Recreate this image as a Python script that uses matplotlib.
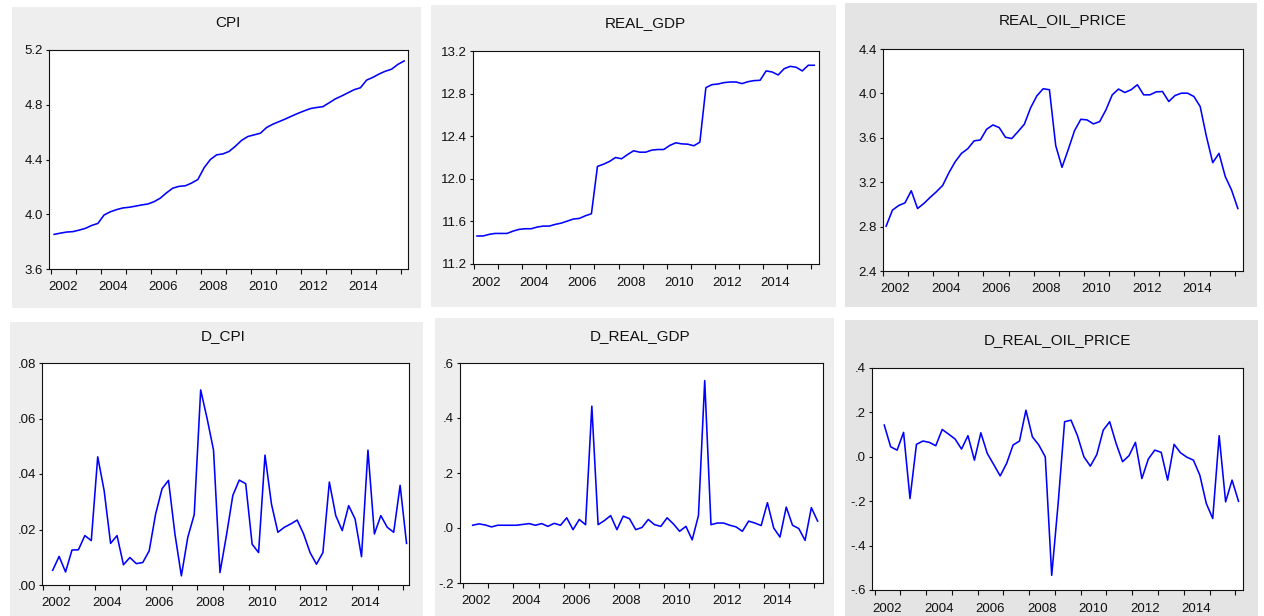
import matplotlib
matplotlib.use("Agg")
import matplotlib.pyplot as plt
from matplotlib.patches import Rectangle
import pandas as pd

# ------------------ CONFIG ------------------
W, H = 1264, 616
plt.rcParams.update({
    "font.family": ["Liberation Sans", "DejaVu Sans"],
    "font.size": 9.5,
    "axes.linewidth": 0.8,
})

GRAY_LIGHT = "#eeeeee"
GRAY_DARK = "#e4e4e4"
TEXT = "#111111"
LINE_BLUE = "#0000ff"

# quarterly sample 2002Q1 - 2016Q1
QUARTERS = pd.period_range("2002Q1", "2016Q1", freq="Q")

CPI = [3.853, 3.862, 3.870, 3.873, 3.884, 3.897, 3.918, 3.933, 3.995, 4.018,
       4.034, 4.046, 4.051, 4.059, 4.068, 4.075, 4.092, 4.118, 4.157, 4.191,
       4.204, 4.208, 4.228, 4.254, 4.340, 4.400, 4.434, 4.441, 4.459, 4.497,
       4.540, 4.568, 4.580, 4.592, 4.634, 4.658, 4.677, 4.696, 4.717, 4.737,
       4.755, 4.772, 4.780, 4.786, 4.814, 4.843, 4.864, 4.887, 4.910, 4.924,
       4.980, 5.000, 5.025, 5.045, 5.060, 5.095, 5.120]

REAL_GDP = [11.463, 11.463, 11.478, 11.487, 11.487, 11.487, 11.509, 11.525, 11.531, 11.531,
            11.547, 11.556, 11.556, 11.572, 11.584, 11.603, 11.622, 11.628, 11.653, 11.672,
            12.116, 12.137, 12.163, 12.200, 12.188, 12.228, 12.263, 12.250, 12.250, 12.269,
            12.275, 12.275, 12.313, 12.338, 12.328, 12.325, 12.310, 12.344, 12.856, 12.884,
            12.890, 12.903, 12.909, 12.909, 12.894, 12.912, 12.922, 12.925, 13.013, 13.003,
            12.975, 13.034, 13.056, 13.047, 13.013, 13.066, 13.066]

REAL_OIL_PRICE = [2.804, 2.948, 2.990, 3.014, 3.123, 2.963, 3.008, 3.063, 3.114, 3.171,
                  3.286, 3.385, 3.460, 3.502, 3.572, 3.581, 3.677, 3.716, 3.692, 3.605,
                  3.593, 3.656, 3.722, 3.870, 3.978, 4.042, 4.033, 3.530, 3.334, 3.495,
                  3.665, 3.767, 3.761, 3.725, 3.746, 3.852, 3.987, 4.039, 4.008, 4.033,
                  4.078, 3.987, 3.987, 4.014, 4.017, 3.927, 3.981, 4.002, 4.002, 3.972,
                  3.882, 3.611, 3.376, 3.460, 3.250, 3.129, 2.963]

D_CPI = [0.0053, 0.0103, 0.0047, 0.0126, 0.0127, 0.0178, 0.0160, 0.0462, 0.0340, 0.0150,
         0.0178, 0.0073, 0.0099, 0.0077, 0.0081, 0.0123, 0.0256, 0.0347, 0.0377, 0.0184,
         0.0033, 0.0172, 0.0254, 0.0703, 0.0600, 0.0486, 0.0045, 0.0178, 0.0323, 0.0378,
         0.0365, 0.0147, 0.0117, 0.0468, 0.0292, 0.0190, 0.0208, 0.0220, 0.0234, 0.0184,
         0.0117, 0.0075, 0.0117, 0.0371, 0.0250, 0.0196, 0.0286, 0.0238, 0.0102, 0.0486,
         0.0184, 0.0250, 0.0208, 0.0190, 0.0359, 0.0150]

D_REAL_GDP = [0.010, 0.015, 0.011, 0.004, 0.010, 0.010, 0.010, 0.010, 0.013, 0.016,
              0.010, 0.016, 0.006, 0.017, 0.010, 0.037, -0.006, 0.031, 0.012, 0.443,
              0.012, 0.027, 0.045, -0.006, 0.043, 0.034, -0.006, 0.002, 0.031, 0.012,
              0.006, 0.037, 0.015, -0.012, 0.006, -0.043, 0.045, 0.536, 0.012, 0.018,
              0.018, 0.010, 0.004, -0.012, 0.025, 0.018, 0.009, 0.092, 0.000, -0.033,
              0.076, 0.010, -0.002, -0.045, 0.074, 0.025]

D_REAL_OIL_PRICE = [0.143, 0.045, 0.030, 0.110, -0.188, 0.056, 0.071, 0.065, 0.050, 0.123,
                    0.102, 0.080, 0.035, 0.095, -0.015, 0.108, 0.015, -0.035, -0.086, -0.030,
                    0.053, 0.071, 0.210, 0.090, 0.053, 0.000, -0.534, -0.210, 0.158, 0.165,
                    0.095, 0.000, -0.042, 0.010, 0.120, 0.158, 0.060, -0.022, 0.005, 0.065,
                    -0.098, -0.010, 0.030, 0.020, -0.105, 0.056, 0.018, -0.002, -0.015, -0.083,
                    -0.210, -0.278, 0.095, -0.203, -0.105, -0.200]

YEAR_TICKS = list(range(2002, 2017))
YEAR_LABELS = [str(y) for y in range(2002, 2015, 2)]

# title, series, differenced?, gray box px, panel colour, axes box px, title centre px, xlim, yticks, decimals
PANELS = [
    ("CPI", CPI, False, (12, 7, 421, 308), GRAY_LIGHT, (49, 50, 408, 269), (228, 23),
     (2001.92, 2016.28), [3.6, 4.0, 4.4, 4.8, 5.2], 1),
    ("REAL_GDP", REAL_GDP, False, (431, 5, 836, 307), GRAY_LIGHT, (473, 51, 819, 264), (645, 23),
     (2001.96, 2016.32), [11.2, 11.6, 12.0, 12.4, 12.8, 13.2], 1),
    ("REAL_OIL_PRICE", REAL_OIL_PRICE, False, (845, 3, 1257, 307), GRAY_DARK, (883, 49, 1243, 271), (1063, 20),
     (2002.0, 2016.33), [2.4, 2.8, 3.2, 3.6, 4.0, 4.4], 1),
    ("D_CPI", D_CPI, True, (10, 322, 423, 616), GRAY_LIGHT, (42, 363, 409, 585), (223, 336),
     (2001.96, 2016.22), [0.0, 0.02, 0.04, 0.06, 0.08], 2),
    ("D_REAL_GDP", D_REAL_GDP, True, (435, 318, 834, 616), GRAY_LIGHT, (460, 363, 823, 583), (640, 336),
     (2001.87, 2016.34), [-0.2, 0.0, 0.2, 0.4, 0.6], 1),
    ("D_REAL_OIL_PRICE", D_REAL_OIL_PRICE, True, (845, 320, 1258, 616), GRAY_DARK, (872, 368, 1243, 590), (1057, 340),
     (2001.9, 2016.3), [-0.6, -0.4, -0.2, 0.0, 0.2, 0.4], 1),
]


# ------------------ FUNCTIONS ------------------
def px_rect(box):
    """(x0, y0, x1, y1) in pixels from top-left -> figure fraction [l, b, w, h]"""
    x0, y0, x1, y1 = box
    return [x0 / W, 1 - y1 / H, (x1 - x0) / W, (y1 - y0) / H]


def eviews_label(v, decimals):
    # EViews drops the leading zero: .08, .0, -.2
    s = f"{v:.{decimals}f}"
    if s.startswith("0."):
        s = s[1:]
    elif s.startswith("-0."):
        s = "-" + s[2:]
    return s


def quarter_positions():
    return [p.year + (p.quarter - 0.5) / 4 for p in QUARTERS]


def draw_panel(fig, title, values, diff, gray_box, gray, ax_box, title_xy, xlim, yticks, decimals):
    l, b, w, h = px_rect(gray_box)
    fig.patches.append(Rectangle((l, b), w, h, transform=fig.transFigure,
                                 facecolor=gray, edgecolor="none", zorder=-5))
    ax = fig.add_axes(px_rect(ax_box))
    ax.set_zorder(2)
    ax.set_facecolor("white")

    x = quarter_positions()
    if diff:
        x = x[1:]
    ax.plot(x, values, color=LINE_BLUE, linewidth=1.15)

    ax.set_xlim(*xlim)
    ax.set_ylim(yticks[0], yticks[-1])

    ax.set_yticks(yticks)
    ax.set_yticklabels([eviews_label(v, decimals) for v in yticks])
    # year ticks at every boundary, labels centred on every other year
    ax.set_xticks(YEAR_TICKS)
    ax.set_xticklabels([])
    ax.set_xticks([int(y) + 0.5 for y in YEAR_LABELS], minor=True)
    ax.set_xticklabels(YEAR_LABELS, minor=True)

    ax.tick_params(axis="y", direction="out", length=2.2, width=0.8, pad=2.0,
                   colors=TEXT, labelsize=9.5)
    ax.tick_params(axis="x", which="major", direction="out", length=3.6, width=0.8, colors=TEXT)
    ax.tick_params(axis="x", which="minor", length=0, pad=9, colors=TEXT, labelsize=9.5)
    for spine in ax.spines.values():
        spine.set_color(TEXT)
        spine.set_linewidth(0.8)

    fig.text(title_xy[0] / W, 1 - title_xy[1] / H, title, ha="center", va="center",
             fontsize=11, color=TEXT, zorder=3)


def main():
    fig = plt.figure(figsize=(W / 100, H / 100), dpi=100)
    fig.patch.set_facecolor("white")
    for panel in PANELS:
        draw_panel(fig, *panel)
    fig.savefig("out.png", dpi=100)
    plt.close(fig)


if __name__ == "__main__":
    main()
